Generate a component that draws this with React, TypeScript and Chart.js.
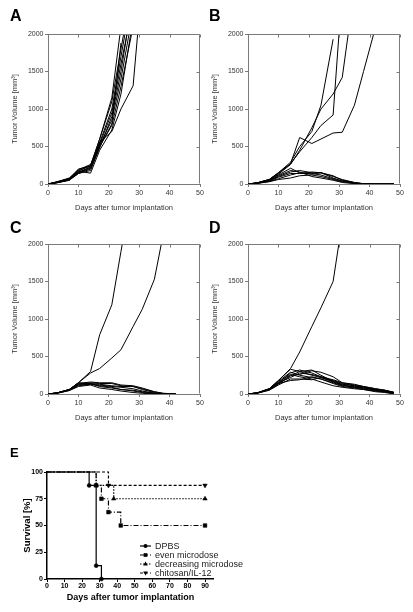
import React, { useEffect, useRef } from 'react';
import { Chart, registerables } from 'chart.js';
Chart.register(...registerables);

// ---------- Panel A: DPBS ----------
const DAYS_A = [0, 3, 7, 10, 14, 17, 21, 24, 28, 31];
const A1 = [0, 20, 60, 150, 230, 550, 1000, 1700, 2600];
const A2 = [0, 25, 70, 170, 250, 600, 1150, 2100];
const A3 = [0, 20, 55, 140, 200, 480, 900, 1500, 2500];
const A4 = [0, 30, 80, 190, 260, 520, 850, 1400, 2300];
const A5 = [0, 15, 50, 170, 145, 450, 720, 1200, 2200];
const A6 = [0, 20, 65, 160, 220, 500, 800, 1880];
const A7 = [0, 25, 75, 180, 240, 560, 700, 1000, 1310, 2700];
const A8 = [0, 20, 60, 150, 210, 530, 950, 1600, 2400];
const A9 = [0, 30, 70, 200, 240, 600, 1100, 1800, 2700];
const A10 = [0, 20, 50, 140, 180, 500, 780, 1300, 2100];

// ---------- Panel B ----------
const DAYS_B = [0, 3, 7, 10, 14, 17, 21, 24, 28, 31, 35, 38, 42, 45, 48];
const B1 = [0, 15, 60, 150, 290, 500, 700, 1050, 1930];
const B2 = [0, 15, 60, 140, 270, 430, 620, 780, 920, 2600];
const B3 = [0, 12, 55, 130, 260, 450, 750, 1000, 1200, 1420, 2600];
const B4 = [0, 15, 60, 150, 270, 620, 540, 600, 680, 690, 1050, 1500, 2100];
const B5 = [0, 15, 50, 120, 210, 150, 130, 150, 100, 60, 20, 5, 0, 0, 0];
const B6 = [0, 10, 40, 100, 160, 180, 150, 150, 110, 50, 20, 0, 0, 0, 0];
const B7 = [0, 10, 40, 90, 140, 140, 160, 150, 80, 40, 10, 0, 0, 0, 0];
const B8 = [0, 8, 30, 60, 80, 110, 120, 100, 60, 30, 10, 0, 0, 0, 0];
const B9 = [0, 10, 35, 70, 120, 150, 140, 120, 70, 40, 15, 5, 0, 0, 0];
const B10 = [0, 12, 45, 110, 180, 160, 100, 80, 50, 20, 5, 0, 0, 0, 0];

// ---------- Panel C ----------
const DAYS_C = [0, 3, 7, 10, 14, 17, 21, 24, 28, 31, 35, 38, 42];
const C1 = [0, 15, 60, 150, 300, 790, 1190, 1900, 2800];
const C2 = [0, 15, 60, 150, 280, 340, 480, 590, 900, 1130, 1530, 2150];
const C3 = [0, 15, 60, 130, 150, 140, 140, 110, 100, 60, 20, 5, 0];
const C4 = [0, 15, 55, 150, 140, 100, 80, 60, 40, 20, 5, 0, 0];
const C5 = [0, 10, 50, 120, 130, 120, 100, 90, 70, 40, 10, 0, 0];
const C6 = [0, 12, 60, 140, 160, 150, 150, 120, 110, 80, 30, 5, 0];
const C7 = [0, 10, 45, 100, 120, 80, 60, 40, 20, 10, 0, 0, 0];
const C8 = [0, 14, 55, 130, 140, 130, 110, 100, 100, 70, 30, 10, 0];
const C9 = [0, 12, 50, 110, 130, 110, 90, 60, 50, 30, 10, 0, 0];

// ---------- Panel D ----------
const DAYS_D = [0, 3, 7, 10, 14, 17, 21, 24, 28, 31, 35, 38, 42, 45, 48];
const D1 = [0, 15, 70, 180, 340, 560, 900, 1150, 1500, 2300];
const D2 = [0, 15, 70, 180, 330, 300, 250, 220, 170, 130, 110, 90, 60, 40, 15];
const D3 = [0, 15, 60, 150, 280, 320, 280, 230, 180, 140, 110, 90, 50, 40, 10];
const D4 = [0, 12, 60, 140, 250, 260, 310, 290, 230, 150, 120, 100, 70, 50, 20];
const D5 = [0, 10, 50, 120, 200, 200, 190, 220, 160, 120, 90, 70, 40, 30, 5];
const D6 = [0, 15, 70, 170, 290, 250, 220, 200, 140, 100, 80, 60, 30, 20, 0];
const D7 = [0, 12, 55, 130, 240, 300, 320, 250, 170, 120, 90, 80, 50, 30, 10];
const D8 = [0, 10, 60, 140, 180, 190, 230, 200, 150, 110, 100, 80, 60, 50, 25];
const D9 = [0, 12, 65, 160, 260, 230, 200, 160, 110, 90, 70, 60, 40, 30, 10];
const D10 = [0, 15, 60, 150, 220, 280, 260, 230, 190, 150, 130, 100, 70, 50, 20];

// ---------- Panel E: survival ----------
const SURV_LABELS = ['DPBS', 'even microdose', 'decreasing microdose', 'chitosan/IL-12'];
const DPBS_DAYS = [0, 24, 28, 31];
const DPBS_SURV = [100, 87.5, 12.5, 0];
const EVEN_DAYS = [0, 28, 31, 35, 42, 90];
const EVEN_SURV = [100, 87.5, 75, 62.5, 50, 50];
const DECR_DAYS = [0, 28, 38, 90];
const DECR_SURV = [100, 87.5, 75, 75];
const CHIT_DAYS = [0, 35, 90];
const CHIT_SURV = [100, 87.5, 87.5];

const X_TICKS_TUMOR = [0, 10, 20, 30, 40, 50];
const Y_TICKS_TUMOR = [0, 500, 1000, 1500, 2000];

const FRAME = '#7a7a7a';
const TXT = '#333';

const framePlugin = {
  id: 'frame',
  afterDraw(chart: any) {
    const { ctx, chartArea: a, scales } = chart;
    ctx.save();
    ctx.strokeStyle = FRAME;
    ctx.lineWidth = 1;
    const L = Math.round(a.left) + 0.5, R = Math.round(a.right) - 0.5;
    const T = Math.round(a.top) + 0.5, B = Math.round(a.bottom) - 0.5;
    ctx.beginPath();
    ctx.moveTo(L, T); ctx.lineTo(R, T); ctx.lineTo(R, B);
    X_TICKS_TUMOR.forEach((v) => {
      const x = Math.round(scales.x.getPixelForValue(v)) + 0.5;
      ctx.moveTo(x, T); ctx.lineTo(x, T + 3);
    });
    Y_TICKS_TUMOR.forEach((v) => {
      const y = Math.round(scales.y.getPixelForValue(v)) + 0.5;
      ctx.moveTo(R, y); ctx.lineTo(R - 3, y);
    });
    ctx.stroke();
    ctx.restore();
  },
};

function TumorPanel({ left, top, days, curves }: any) {
  const ref = useRef<HTMLCanvasElement>(null);
  useEffect(() => {
    const chart = new Chart(ref.current as HTMLCanvasElement, {
      type: 'line',
      data: {
        datasets: curves.map((c: number[]) => ({
          data: c.map((v, i) => ({ x: days[i], y: v })),
          borderColor: '#000',
          borderWidth: 1,
          pointRadius: 0,
          fill: false,
          tension: 0,
        })),
      },
      options: {
        animation: false,
        responsive: false,
        maintainAspectRatio: false,
        layout: { padding: { top: 34, right: 6, left: 0, bottom: 0 } },
        plugins: { legend: { display: false }, tooltip: { enabled: false } },
        scales: {
          x: {
            type: 'linear',
            min: 0,
            max: 50,
            afterBuildTicks: (s: any) => { s.ticks = X_TICKS_TUMOR.map((v) => ({ value: v })); },
            ticks: { font: { family: 'Arial', size: 7 }, color: TXT, padding: 1.5, maxRotation: 0, callback: (v: any) => String(v) },
            grid: { drawOnChartArea: false, tickLength: 3, color: FRAME },
            border: { color: FRAME },
            title: {
              display: true,
              text: 'Days after tumor implantation',
              font: { family: 'Arial', size: 7.5 },
              color: TXT,
              padding: { top: 0, bottom: 1.5 },
            },
            afterFit: (s: any) => { s.height = 30; },
          },
          y: {
            min: 0,
            max: 2000,
            afterBuildTicks: (s: any) => { s.ticks = Y_TICKS_TUMOR.map((v) => ({ value: v })); },
            ticks: { font: { family: 'Arial', size: 7 }, color: TXT, padding: 1.5, callback: (v: any) => String(v) },
            grid: { drawOnChartArea: false, tickLength: 3, color: FRAME },
            border: { color: FRAME },
            title: {
              display: true,
              text: 'Tumor Volume [mm³]',
              font: { family: 'Arial', size: 7.5 },
              color: TXT,
              padding: { top: 10.5, bottom: 0 },
            },
            afterFit: (s: any) => { s.width = 48; },
          },
        },
      } as any,
      plugins: [framePlugin],
    });
    return () => chart.destroy();
  }, []);
  return (
    <canvas
      ref={ref}
      width={206}
      height={214}
      style={{ position: 'absolute', left, top, width: 206, height: 214 }}
    />
  );
}

const SURV_STYLES = [
  { dash: [], point: 'circle', rot: 0, r: 2 },
  { dash: [5, 2, 1, 2], point: 'rect', rot: 0, r: 2.6 },
  { dash: [1.5, 1.5], point: 'triangle', rot: 0, r: 2.6 },
  { dash: [3, 2], point: 'triangle', rot: 180, r: 2.6 },
];

function drawMarker(ctx: CanvasRenderingContext2D, kind: string, rot: number, x: number, y: number, r: number) {
  ctx.beginPath();
  if (kind === 'circle') {
    ctx.arc(x, y, r, 0, Math.PI * 2);
  } else if (kind === 'rect') {
    const s = r * Math.SQRT1_2;
    ctx.rect(x - s, y - s, 2 * s, 2 * s);
  } else {
    const dir = rot === 180 ? -1 : 1;
    ctx.moveTo(x, y - dir * r);
    ctx.lineTo(x + r * 0.9, y + dir * r * 0.6);
    ctx.lineTo(x - r * 0.9, y + dir * r * 0.6);
    ctx.closePath();
  }
  ctx.fill();
}

const legendPlugin = {
  id: 'survLegend',
  afterDraw(chart: any) {
    const { ctx } = chart;
    ctx.save();
    SURV_LABELS.forEach((label, i) => {
      const y = 106 + i * 9;
      const st = SURV_STYLES[i];
      ctx.strokeStyle = '#000';
      ctx.fillStyle = '#000';
      ctx.lineWidth = 1.2;
      ctx.setLineDash(st.dash);
      ctx.beginPath();
      ctx.moveTo(140, y);
      ctx.lineTo(151, y);
      ctx.stroke();
      ctx.setLineDash([]);
      drawMarker(ctx, st.point, st.rot, 145.5, y, st.r);
      ctx.fillStyle = '#222';
      ctx.font = '9px Arial';
      ctx.textBaseline = 'middle';
      ctx.textAlign = 'left';
      ctx.fillText(label, 155, y + 0.5);
    });
    ctx.restore();
  },
};

function SurvivalPanel() {
  const ref = useRef<HTMLCanvasElement>(null);
  useEffect(() => {
    const series = [
      [DPBS_DAYS, DPBS_SURV],
      [EVEN_DAYS, EVEN_SURV],
      [DECR_DAYS, DECR_SURV],
      [CHIT_DAYS, CHIT_SURV],
    ];
    const chart = new Chart(ref.current as HTMLCanvasElement, {
      type: 'line',
      data: {
        datasets: series.map(([xs, ys], k) => ({
          label: SURV_LABELS[k],
          data: xs.map((x, i) => ({ x, y: ys[i] })),
          stepped: 'before',
          borderColor: '#000',
          borderWidth: 1.2,
          borderDash: SURV_STYLES[k].dash,
          pointStyle: SURV_STYLES[k].point,
          rotation: SURV_STYLES[k].rot,
          pointRadius: xs.map((_, i) => (i === 0 ? 0 : SURV_STYLES[k].r)),
          pointBackgroundColor: '#000',
          pointBorderColor: '#000',
          pointBorderWidth: 0.5,
          fill: false,
          clip: false,
        })),
      },
      options: {
        animation: false,
        responsive: false,
        maintainAspectRatio: false,
        layout: { padding: { top: 32, right: 56.2, left: 0, bottom: 0 } },
        plugins: { legend: { display: false }, tooltip: { enabled: false } },
        scales: {
          x: {
            type: 'linear',
            min: 0,
            max: 95,
            ticks: { stepSize: 10, includeBounds: false, font: { family: 'Arial', size: 7, weight: 'bold' }, color: '#000', padding: 0, maxRotation: 0 },
            grid: { drawOnChartArea: false, tickLength: 3, color: '#000', lineWidth: 1 },
            border: { color: '#000', width: 1.5 },
            title: {
              display: true,
              text: 'Days after tumor implantation',
              font: { family: 'Arial', size: 9, weight: 'bold' },
              color: '#000',
              padding: { top: 0, bottom: 8.6 },
            },
            afterFit: (s: any) => { s.height = 33; },
          },
          y: {
            min: 0,
            max: 100,
            ticks: { stepSize: 25, font: { family: 'Arial', size: 7, weight: 'bold' }, color: '#000', padding: 1 },
            grid: { drawOnChartArea: false, tickLength: 3, color: '#000', lineWidth: 1 },
            border: { color: '#000', width: 1.5 },
            title: {
              display: true,
              text: 'Survival [%]',
              font: { family: 'Arial', size: 9.5, weight: 'bold' },
              color: '#000',
              padding: { top: 21.3, bottom: 0 },
            },
            afterFit: (s: any) => { s.width = 47; },
          },
        },
      } as any,
      plugins: [legendPlugin],
    });
    return () => chart.destroy();
  }, []);
  return (
    <canvas
      ref={ref}
      width={270}
      height={172}
      style={{ position: 'absolute', left: 0, top: 440, width: 270, height: 172 }}
    />
  );
}

const letterStyle = (left: number, top: number, size: number): React.CSSProperties => ({
  position: 'absolute',
  left,
  top,
  fontFamily: 'Arial, "Liberation Sans", sans-serif',
  fontWeight: 'bold',
  fontSize: size,
  lineHeight: 1,
  color: '#000',
});

export default function App() {
  return (
    <div style={{ position: 'absolute', left: 0, top: 0, width: 413, height: 612, background: '#fff', overflow: 'hidden' }}>
      <TumorPanel left={0} top={0} days={DAYS_A} curves={[A1, A2, A3, A4, A5, A6, A7, A8, A9, A10]} />
      <TumorPanel left={200} top={0} days={DAYS_B} curves={[B1, B2, B3, B4, B5, B6, B7, B8, B9, B10]} />
      <TumorPanel left={0} top={210} days={DAYS_C} curves={[C1, C2, C3, C4, C5, C6, C7, C8, C9]} />
      <TumorPanel left={200} top={210} days={DAYS_D} curves={[D1, D2, D3, D4, D5, D6, D7, D8, D9, D10]} />
      <SurvivalPanel />
      <div style={letterStyle(10, 8, 16)}>A</div>
      <div style={letterStyle(209, 8, 16)}>B</div>
      <div style={letterStyle(10, 220, 16)}>C</div>
      <div style={letterStyle(209, 220, 16)}>D</div>
      <div style={letterStyle(10, 446, 13)}>E</div>
    </div>
  );
}
